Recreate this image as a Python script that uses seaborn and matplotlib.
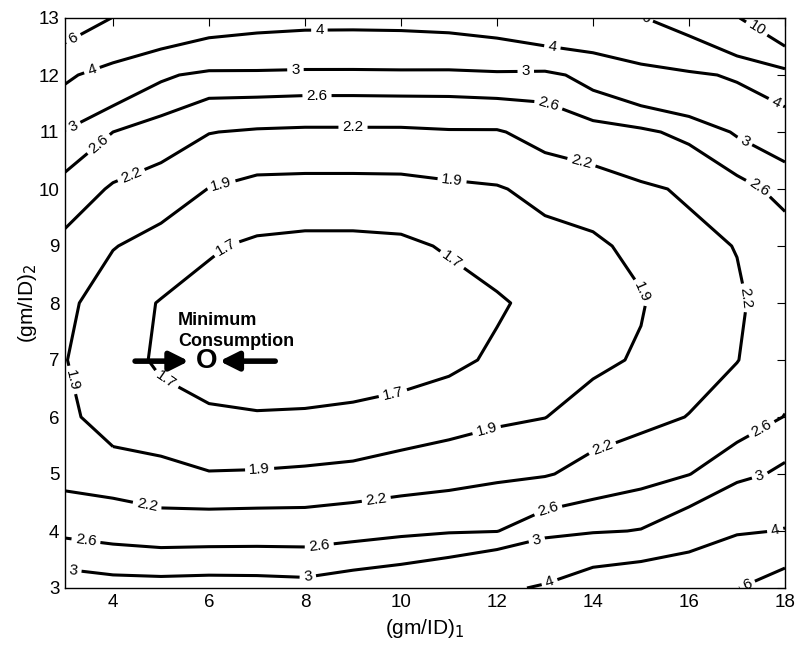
import numpy as np
import pandas as pd
import matplotlib
matplotlib.use("Agg")
import matplotlib.pyplot as plt
import seaborn as sns

# ---- data: consumption grid, rows for (gm/ID)_2 = 3..13, columns (gm/ID)_1 = 3..18
gm_id1 = [3, 4, 5, 6, 7, 8, 9, 10, 11, 12, 13, 14, 15, 16, 17, 18]
gm_id2 = [3, 4, 5, 6, 7, 8, 9, 10, 11, 12, 13]

z_y3 = [3.24, 3.17, 3.16, 3.18, 3.17, 3.14, 3.25, 3.34, 3.50, 3.85, 4.09, 4.60, 4.85, 5.20, 5.95, 7.05]
z_y4 = [2.51, 2.43, 2.37, 2.38, 2.39, 2.39, 2.45, 2.52, 2.57, 2.59, 2.85, 2.95, 3.02, 3.30, 3.86, 4.05]
z_y5 = [2.07, 2.03, 1.95, 1.91, 1.916, 1.93, 1.95, 2.00, 2.05, 2.13, 2.17, 2.32, 2.45, 2.59, 2.85, 3.10]
z_y6 = [1.97, 1.76, 1.79, 1.72, 1.71, 1.715, 1.73, 1.76, 1.80, 1.85, 1.895, 2.02, 2.10, 2.21, 2.40, 2.61]
z_y7 = [1.905, 1.81, 1.66, 1.635, 1.62, 1.615, 1.615, 1.625, 1.66, 1.727, 1.79, 1.84, 1.93, 2.06, 2.19, 2.44]
z_y8 = [1.951, 1.78, 1.69, 1.655, 1.62, 1.61, 1.61, 1.615, 1.64, 1.68, 1.75, 1.83, 1.88, 2.08, 2.16, 2.36]
z_y9 = [2.09, 1.91, 1.82, 1.715, 1.675, 1.66, 1.66, 1.67, 1.715, 1.78, 1.82, 1.86, 1.96, 2.12, 2.21, 2.40]
z_y10 = [2.45, 2.15, 2.02, 1.895, 1.815, 1.81, 1.81, 1.815, 1.85, 1.88, 1.97, 2.02, 2.15, 2.24, 2.46, 2.73]
z_y11 = [2.96, 2.60, 2.41, 2.21, 2.16, 2.14, 2.14, 2.14, 2.17, 2.17, 2.33, 2.45, 2.53, 2.70, 3.05, 3.30]
z_y12 = [4.20, 3.47, 3.08, 2.87, 2.88, 2.86, 2.86, 2.87, 2.86, 2.90, 2.85, 3.20, 3.55, 3.80, 4.14, 4.89]
z_y13 = [7.40, 5.95, 5.10, 4.60, 4.40, 4.31, 4.30, 4.32, 4.40, 4.60, 5.10, 5.25, 5.90, 7.00, 9.70, 15.0]

levels = [1.7, 1.9, 2.2, 2.6, 3, 4, 6, 10]

# label positions (where the inline labels sit)
label_pos = [
    (3.2, 12.6), (3.56, 12.09), (3.17, 11.1), (3.67, 10.82), (4.35, 10.3),
    (6.27, 10.04), (6.4, 8.93), (8.3, 12.79), (7.8, 12.14), (8.25, 11.79),
    (9.0, 11.12), (13.15, 12.47), (12.6, 12.02), (13.06, 11.46), (13.8, 10.6),
    (11.06, 10.12), (11.1, 8.8), (15.0, 12.9), (17.4, 12.8), (17.8, 11.5),
    (17.2, 10.9), (17.5, 10.1), (14.98, 8.18), (17.23, 8.1),
    (3.15, 6.65), (5.1, 6.65), (9.83, 6.42), (7.06, 5.02), (4.67, 4.28),
    (9.5, 4.46), (3.42, 3.72), (8.3, 3.72), (3.17, 3.28), (8.04, 3.3),
    (11.8, 5.72), (14.25, 5.33), (13.1, 4.23), (12.85, 3.77), (13.1, 3.09),
    (17.2, 3.09), (17.8, 4.0), (17.5, 4.9), (17.55, 5.74),
]

rows = [z_y3, z_y4, z_y5, z_y6, z_y7, z_y8, z_y9, z_y10, z_y11, z_y12, z_y13]
df = pd.DataFrame(rows, index=gm_id2, columns=gm_id1)

sns.set_theme(style="white")
plt.rcParams['font.family'] = ['Liberation Sans', 'DejaVu Sans']
plt.rcParams['text.color'] = 'black'
plt.rcParams['axes.labelcolor'] = 'black'

fig = plt.figure(figsize=(7.99, 6.48), dpi=100)
ax = fig.add_axes([65 / 799, 60 / 648, 720 / 799, 570 / 648])

X, Y = np.meshgrid(df.columns.values, df.index.values)
cs = ax.contour(X, Y, df.values, levels=levels, colors='black', linewidths=2.2)
ax.clabel(cs, fmt='%g', fontsize=11, inline=True, inline_spacing=4,
          manual=label_pos, colors='black')

ax.set_xlim(3, 18)
ax.set_ylim(3, 13)
ax.set_xticks([4, 6, 8, 10, 12, 14, 16, 18])
ax.set_yticks(gm_id2)
ax.tick_params(direction='in', top=True, right=True, length=6, width=0.8,
               labelsize=13.5, colors='black', pad=4)
for s in ax.spines.values():
    s.set_color('black')
    s.set_linewidth(1.0)

ax.set_xlabel('(gm/ID)$_1$', fontsize=15, color='black', labelpad=5)
ax.set_ylabel('(gm/ID)$_2$', fontsize=15, color='black', labelpad=0)

# annotation of the minimum
ax.text(5.35, 7.17, 'Minimum\nConsumption', fontsize=13, fontweight='bold',
        ha='left', va='bottom', linespacing=1.3, color='black')
ax.text(5.96, 6.98, 'O', fontsize=20, fontweight='bold', ha='center', va='center',
        color='black')
ax.annotate('', xy=(5.58, 6.98), xytext=(4.46, 6.98),
            arrowprops=dict(arrowstyle='-|>', lw=4, color='black', mutation_scale=28,
                            shrinkA=0, shrinkB=0))
ax.annotate('', xy=(6.22, 6.98), xytext=(7.38, 6.98),
            arrowprops=dict(arrowstyle='-|>', lw=4, color='black', mutation_scale=28,
                            shrinkA=0, shrinkB=0))

fig.savefig('out.png', dpi=100)
